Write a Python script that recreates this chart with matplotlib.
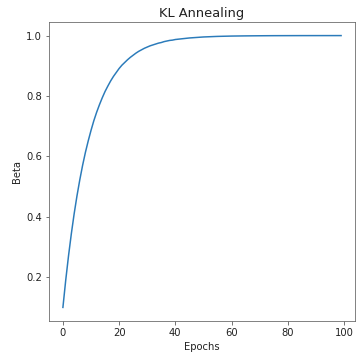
import matplotlib
matplotlib.use("Agg")
import matplotlib.pyplot as plt

epochs = list(range(0, 41)) + [45, 50, 55, 60, 65, 70, 75, 80, 85, 90, 95, 99]
beta = [0.100, 0.190, 0.271, 0.344, 0.410, 0.469, 0.522, 0.570, 0.613, 0.651,
        0.686, 0.718, 0.746, 0.771, 0.794, 0.815, 0.833, 0.850, 0.865, 0.878,
        0.891, 0.902, 0.911, 0.920, 0.928, 0.935, 0.942, 0.948, 0.953, 0.958,
        0.962, 0.966, 0.969, 0.972, 0.975, 0.977, 0.980, 0.982, 0.984, 0.985,
        0.987,
        0.9921, 0.9954, 0.9973, 0.9984, 0.9990, 0.9994, 0.9997, 0.9998,
        0.9999, 0.99993, 0.99996, 0.99998]

title = "KL Annealing"
xlabel = "Epochs"
ylabel = "Beta"

fig = plt.figure(figsize=(362 / 72, 359 / 72), dpi=72)
ax = fig.add_axes([49 / 362, 1 - 321 / 359, (355 - 49) / 362, (321 - 22) / 359])
ax.plot(epochs, beta, color="#2b7bba", linewidth=1.5)
ax.set_title(title, fontsize=13, pad=5, color="#222222")
ax.set_xlabel(xlabel, color="#222222")
ax.set_ylabel(ylabel, color="#222222")
ax.set_xticks([0, 20, 40, 60, 80, 100])
ax.set_yticks([0.2, 0.4, 0.6, 0.8, 1.0])
ax.tick_params(colors="#555555", labelcolor="#222222")
for s in ax.spines.values():
    s.set_color("#666666")
fig.savefig("out.png", dpi=72)
